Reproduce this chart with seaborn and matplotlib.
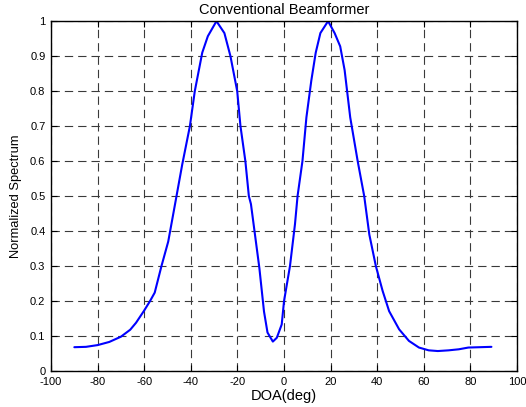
import numpy as np
import pandas as pd
import matplotlib
matplotlib.use("Agg")
import matplotlib.pyplot as plt
import seaborn as sns

# Direction of arrival (degrees) and normalized beamformer output
doa_deg = [-90, -85, -80, -75, -70, -66, -63.5, -60, -57.5, -55.5, -52.6, -49.7,
           -46.8, -43.7, -40.4, -38.3, -35.1, -32.7, -29, -25.6, -23, -20.1,
           -18.7, -16.6, -15.1, -14.2, -10.6, -8.6, -7.1, -4.8, -3.1, -1, 0,
           2.55, 4.7, 5.8, 7.9, 9.6, 11.7, 13.6, 15.6, 18.9, 21.7, 24.1, 26,
           28.4, 31.6, 34.4, 36.6, 39.4, 42.3, 45.1, 49.4, 53.6, 57.9, 62.1,
           66, 70.6, 75, 79.1, 84, 89]
spectrum = [0.068, 0.069, 0.074, 0.083, 0.098, 0.118, 0.138, 0.173, 0.2, 0.224,
            0.30, 0.37, 0.476, 0.59, 0.70, 0.80, 0.91, 0.957, 1.0, 0.966, 0.9,
            0.80, 0.70, 0.60, 0.50, 0.477, 0.295, 0.17, 0.11, 0.084, 0.095,
            0.133, 0.2, 0.30, 0.42, 0.50, 0.60, 0.725, 0.83, 0.91, 0.966, 1.0,
            0.966, 0.928, 0.86, 0.725, 0.60, 0.50, 0.39, 0.30, 0.229, 0.171,
            0.119, 0.086, 0.067, 0.059, 0.057, 0.059, 0.062, 0.067, 0.068, 0.069]

x_ticks = list(range(-100, 101, 20))
y_ticks = [0, 0.1, 0.2, 0.3, 0.4, 0.5, 0.6, 0.7, 0.8, 0.9, 1]
y_tick_labels = ["0", "0.1", "0.2", "0.3", "0.4", "0.5", "0.6", "0.7", "0.8", "0.9", "1"]

sns.set_style("white")
plt.rcParams["font.family"] = ["Liberation Sans", "DejaVu Sans"]
plt.rcParams["text.color"] = "black"
plt.rcParams["axes.labelcolor"] = "black"

df = pd.DataFrame({"DOA": doa_deg, "P": spectrum})

fig = plt.figure(figsize=(5.26, 4.07), dpi=100)
ax = fig.add_axes([0.097, 0.0885, 0.886, 0.8595])

sns.lineplot(data=df, x="DOA", y="P", ax=ax, color="#0000ff", linewidth=1.5,
             sort=False, estimator=None)

ax.set_xlim(-100, 100)
ax.set_ylim(0, 1)
ax.set_xticks(x_ticks)
ax.set_xticklabels([str(t) for t in x_ticks])
ax.set_yticks(y_ticks)
ax.set_yticklabels(y_tick_labels)

ax.grid(True, color="#3a3a3a", linestyle=(0, (7.5, 4.5)), linewidth=0.8)
ax.tick_params(direction="in", length=4, width=0.8, labelsize=8, colors="black",
               top=True, right=True, bottom=True, left=True)
ax.tick_params(axis="x", pad=4)
ax.tick_params(axis="y", pad=4)
for s in ax.spines.values():
    s.set_color("black")
    s.set_linewidth(1.0)

ax.set_title("Conventional Beamformer", fontsize=10.5, pad=5, color="black")
ax.set_xlabel("DOA(deg)", fontsize=10.5, labelpad=2, color="black")
ax.set_ylabel("Normalized Spectrum", fontsize=9.3, labelpad=6, color="black")

fig.savefig("out.png", dpi=100)
